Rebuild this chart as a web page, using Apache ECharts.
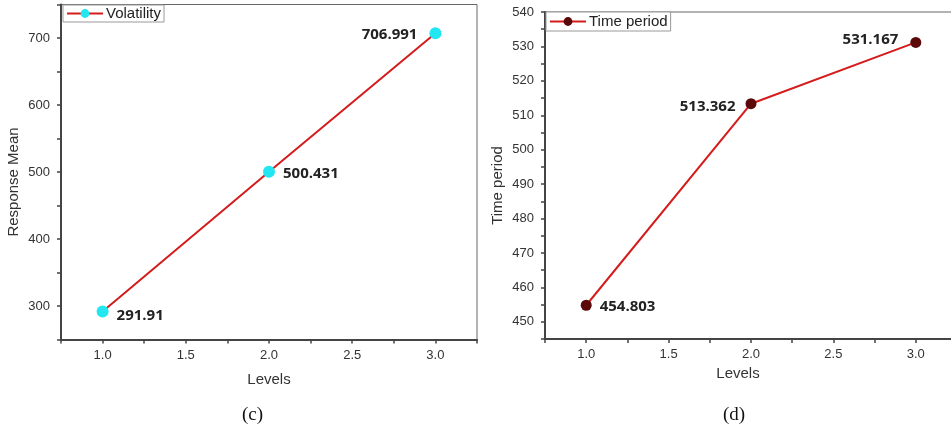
<!DOCTYPE html>
<html>
<head>
<meta charset="utf-8">
<script src="https://cdn.jsdelivr.net/npm/echarts@6/dist/echarts.min.js"></script>
<style>
  html, body { margin: 0; padding: 0; background: #fff; }
  #main { width: 951px; height: 434px; }
</style>
</head>
<body>
<div id="main"></div>
<script>
// data
var levels = [1, 2, 3];
var volatility = [291.91, 500.431, 706.991];
var timePeriod = [454.803, 513.362, 531.167];
// label placement per point (left panel, right panel)
var volLabelPos = ["right", "right", "left"];
var timeLabelPos = ["right", "left", "left"];

var chart = echarts.init(document.getElementById("main"));

function pairs(ys, pos, offs) {
  return levels.map(function (x, i) {
    return {
      value: [x, ys[i]],
      label: { position: pos[i], offset: offs[i] }
    };
  });
}

var tickFont = { fontFamily: "Liberation Sans", fontSize: 13, color: "#333" };

function xAxisCfg(gridIndex, nameGap, namePad) {
  return {
    type: "value",
    gridIndex: gridIndex,
    min: 0.75,
    max: 3.25,
    interval: 0.25,
    name: "Levels",
    nameLocation: "middle",
    nameGap: nameGap,
    nameTextStyle: { fontFamily: "Liberation Sans", fontSize: 15, color: "#333", padding: namePad },
    axisLine: { lineStyle: { color: "#444", width: 2 } },
    axisTick: { length: 4, lineStyle: { color: "#444", width: 1.5 } },
    axisLabel: Object.assign({
      margin: 9,
      formatter: function (v) {
        var d = v * 2;
        return Math.abs(d - Math.round(d)) < 1e-6 ? v.toFixed(1) : "";
      }
    }, tickFont),
    splitLine: { show: false }
  };
}

function yAxisCfg(gridIndex, name, min, max, step, labelStep, nameGap) {
  return {
    type: "value",
    gridIndex: gridIndex,
    min: min,
    max: max,
    interval: step,
    name: name,
    nameLocation: "middle",
    nameGap: nameGap,
    nameRotate: 90,
    nameTextStyle: { fontFamily: "Liberation Sans", fontSize: 15, color: "#333", padding: [0, 20, 0, 0] },
    axisLine: { lineStyle: { color: "#444", width: 2 } },
    axisTick: { length: 4, lineStyle: { color: "#444", width: 1.5 } },
    axisLabel: Object.assign({
      margin: 11,
      formatter: function (v) {
        var r = Math.round(v);
        return r % labelStep === 0 ? String(r) : "";
      }
    }, tickFont),
    splitLine: { show: false }
  };
}

var labelStyle = {
  show: true,
  fontFamily: "Open Sans",
  fontWeight: "bold",
  fontSize: 15,
  color: "#222",
  distance: 8,
  formatter: function (p) { return String(p.value[1]); }
};

var legendBase = {
  orient: "vertical",
  itemWidth: 36,
  itemHeight: 11,
  borderColor: "#999",
  borderWidth: 1,
  backgroundColor: "#fff",
  textStyle: { fontFamily: "Liberation Sans", fontSize: 15, color: "#222", padding: [0, 0, 0, -2] }
};

var option = {
  backgroundColor: "#fff",
  animation: false,
  grid: [
    { left: 61, top: 4.5, width: 416, height: 335, outerBoundsMode: "none", show: true, borderColor: "#666", borderWidth: 1 },
    { left: 545, top: 12, width: 412, height: 327, outerBoundsMode: "none", show: true, borderColor: "#666", borderWidth: 1 }
  ],
  legend: [
    Object.assign({ data: ["Volatility"], left: 63, top: 5, padding: [1, 3, 1, 3] }, legendBase),
    Object.assign({ data: ["Time period"], left: 546, top: 12, padding: [2, 3, 2, 3] }, legendBase)
  ],
  xAxis: [
    xAxisCfg(0, 33, 0),
    xAxisCfg(1, 27, [0, 26, 0, 0])
  ],
  yAxis: [
    yAxisCfg(0, "Response Mean", 250, 750, 50, 100, 40),
    yAxisCfg(1, "Time period", 445, 540, 5, 10, 40)
  ],
  series: [
    {
      name: "Volatility",
      type: "line",
      xAxisIndex: 0,
      yAxisIndex: 0,
      symbol: "circle",
      symbolSize: 12,
      lineStyle: { color: "#d41c1c", width: 2 },
      itemStyle: { color: "#22e6f0" },
      label: labelStyle,
      data: pairs(volatility, volLabelPos, [[0, 4], [0, 2], [-4, 1]])
    },
    {
      name: "Time period",
      type: "line",
      xAxisIndex: 1,
      yAxisIndex: 1,
      symbol: "circle",
      symbolSize: 11,
      lineStyle: { color: "#d41c1c", width: 2 },
      itemStyle: { color: "#5a0808" },
      label: labelStyle,
      data: pairs(timePeriod, timeLabelPos, [[0, 1], [-2, 3], [-4, -3]])
    }
  ],
  graphic: [
    { type: "text", left: 242, top: 406, style: { text: "(c)", fontFamily: "Liberation Serif", fontSize: 19, fill: "#111", textAlign: "center" } },
    { type: "text", left: 723, top: 406, style: { text: "(d)", fontFamily: "Liberation Serif", fontSize: 19, fill: "#111", textAlign: "center" } }
  ]
};

chart.setOption(option);
</script>
</body>
</html>
